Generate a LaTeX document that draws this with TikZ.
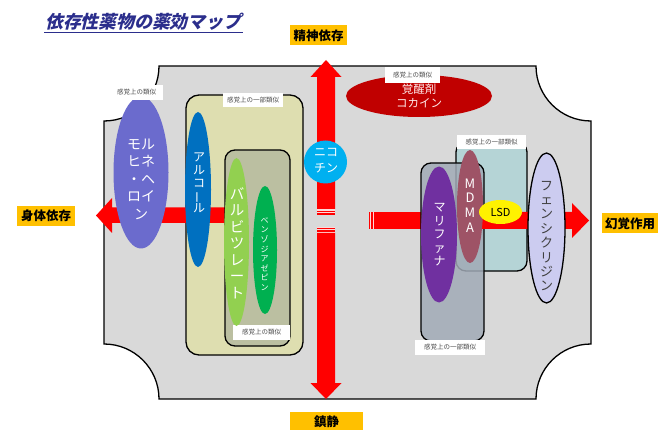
\documentclass[tikz,border=0pt]{standalone}
\usepackage{fontspec}
\setmainfont{Noto Sans CJK JP}
\newfontfamily\titlefont{Noto Sans CJK JP}[FakeSlant=0.24]
\usetikzlibrary{shapes.geometric}
\definecolor{plaque}{HTML}{D9D9D9}
\definecolor{ybox}{HTML}{DEDEB0}
\definecolor{bbox}{HTML}{BBBFA1}
\definecolor{mbox}{HTML}{A1AAB6}
\definecolor{tbox}{HTML}{B5D4D6}
\definecolor{morph}{HTML}{6B6BCD}
\definecolor{alco}{HTML}{0070C0}
\definecolor{barb}{HTML}{92D050}
\definecolor{benzo}{HTML}{00B050}
\definecolor{nico}{HTML}{00B0F0}
\definecolor{coca}{HTML}{C00000}
\definecolor{mari}{HTML}{7030A0}
\definecolor{mdma}{HTML}{9E5366}
\definecolor{fenc}{HTML}{CCCCF0}
\definecolor{orng}{HTML}{FFC000}
\definecolor{navy}{HTML}{2B2E8C}
\definecolor{pinkgap}{HTML}{FFD8D8}
\newcommand\tatebar{\rotatebox[origin=c]{90}{ー}}
\tikzset{
  lbl/.style={fill=white, inner sep=0pt, minimum height=14, font=\fontsize{6.5}{7}\selectfont, text=black!70},
  axislbl/.style={fill=orng, inner sep=0pt, minimum height=20, font=\fontsize{12.5}{13}\selectfont\bfseries, text=black},
  drug/.style={ellipse, inner sep=0pt},
  grp/.style={draw=black, line width=1.3, rounded corners=10, inner sep=0pt},
  wtxt/.style={text=white, align=center, inner sep=0pt},
}
\begin{document}
\begin{tikzpicture}[x=1pt, y=-1pt]
\useasboundingbox (0,0) rectangle (658,430);

% title
\node[font=\fontsize{17.8}{18}\selectfont\titlefont\bfseries, text=navy, anchor=base west, inner sep=0pt] (title) at (45,28.5) {依存性薬物の薬効マップ};
\draw[navy, line width=1] (44,32.5) -- (243,32.5);

% plaque
\draw[fill=plaque, line width=1.3]
  (159,66) -- (536,66) arc[start angle=180, end angle=90, radius=55]
  -- (591,344) arc[start angle=270, end angle=180, radius=55]
  -- (159,399) arc[start angle=0, end angle=-90, radius=55]
  -- (104,121) arc[start angle=90, end angle=0, radius=55] -- cycle;

% axis labels
\node[axislbl, minimum width=57] (seishin) at (318.5,35.5) {精神依存};
\node[axislbl, minimum width=58] (shintai) at (46,216) {身体依存};
\node[axislbl, minimum width=56] (genkaku) at (630,223.5) {幻覚作用};
\node[axislbl, minimum width=73, anchor=north] (chinsei) at (326.5,412) {鎮静};

% yellow group box
\node[grp, fill=ybox, minimum width=117, minimum height=260, rounded corners=13] (ygroup) at (244.5,225) {};
\node[lbl, minimum width=60] (ylbl) at (253,100) {感覚上の一部類似};

% left red arrow
\fill[red] (96,215.5) -- (112,198) -- (112,207.5) -- (262,207.5) -- (262,223) -- (112,223) -- (112,233) -- cycle;

% barbiturate group box
\node[grp, fill=bbox, minimum width=65, minimum height=196] (bgroup) at (257.5,248) {};
\node[lbl, minimum width=57, minimum height=15] (blbl) at (261.5,332.5) {感覚上の類似};

% morphine
\node[drug, fill=morph, minimum width=55, minimum height=152] (morphine) at (141,172.5) {};
\node[wtxt, font=\fontsize{14}{17.5}\selectfont] (morphinet) at (141,179) {モル\\ヒネ\\・ヘ\\ロイ\\ン};
\node[lbl, minimum width=53, minimum height=15] (morlbl) at (136.5,92.5) {感覚上の類似};

% alcohol
\node[drug, fill=alco, minimum width=26, minimum height=155] (alcohol) at (198,189.5) {};
\node[wtxt, font=\fontsize{12}{12.8}\selectfont] (alcoholt) at (199,183) {ア\\ル\\コ\\\tatebar\\ル};

% barbiturate
\node[drug, fill=barb, minimum width=25, minimum height=168] (barbit) at (236.5,242) {};
\node[wtxt, font=\fontsize{14.5}{16.5}\selectfont] (barbitt) at (237,243) {バ\\ル\\ビ\\ツ\\レ\\ー\\ト};

% benzodiazepine
\node[drug, fill=benzo, minimum width=24, minimum height=128] (benzo) at (265,250) {};
\node[wtxt, font=\fontsize{8}{9.6}\selectfont] (benzot) at (264.5,254) {ベ\\ン\\ゾ\\ジ\\ア\\ゼ\\ピ\\ン};

% vertical red arrow with break
\fill[red] (326,60) -- (341.5,77) -- (335,77) -- (335,209) -- (317,209) -- (317,77) -- (310.5,77) -- cycle;
\fill[pinkgap] (317,209) rectangle (335,215);
\fill[red] (317,210.6) rectangle (335,212);
\fill[red] (317,213.2) rectangle (335,214.6);
\fill[pinkgap] (317,227.5) rectangle (335,233);
\fill[red] (317,227.7) rectangle (335,229);
\fill[red] (317,230.3) rectangle (335,231.7);
\fill[red] (317,233) -- (335,233) -- (335,383) -- (341.5,383) -- (326,399) -- (310.5,383) -- (317,383) -- cycle;

% nicotine
\node[circle, fill=nico, minimum size=43, inner sep=0pt] (nicotine) at (325.5,162) {};
\node[wtxt, font=\fontsize{12}{16}\selectfont] (nicotinet) at (326,160.5) {ニコ\\チン};

% cocaine
\node[drug, fill=coca, minimum width=146, minimum height=42] (cocaine) at (419,96) {};
\node[wtxt, text=red!8!white, font=\fontsize{11.5}{14}\selectfont] (cocainet) at (419,95.5) {覚醒剤\\コカイン};
\node[lbl, minimum width=55, minimum height=16] (coclbl) at (412.5,75) {感覚上の類似};

% right red arrow, first piece
\fill[pinkgap] (369,212) rectangle (375,229);
\fill[red] (369,212) rectangle (370.4,229);
\fill[red] (371.4,212) rectangle (373,229);
\fill[red] (374,212) rectangle (430,229);

% MDMA group and marijuana group
\node[grp, fill=tbox, minimum width=71, minimum height=129] (tgroup) at (491.5,206.5) {};
\node[grp, fill=mbox, fill opacity=0.85, minimum width=63, minimum height=178] (mgroup) at (452.5,252) {};
\node[lbl, minimum width=69] (tlbl) at (491.5,142) {感覚上の一部類似};
\node[lbl, minimum width=70, minimum height=15] (mlbl) at (450,347.5) {感覚上の一部類似};

% right red arrow, second piece
\fill[red] (475,212) -- (572,212) -- (572,203) -- (589,220.5) -- (572,238) -- (572,229) -- (475,229) -- cycle;

% marijuana
\node[drug, fill=mari, minimum width=36, minimum height=136] (marijuana) at (439,234.5) {};
\node[wtxt, font=\fontsize{12}{13.5}\selectfont] (marijuanat) at (439.5,235) {マ\\リ\\フ\\ァ\\ナ};

% MDMA
\node[drug, fill=mdma, minimum width=26, minimum height=113] (mdmaell) at (470,206.5) {};
\node[wtxt, font=\fontsize{13}{14.7}\selectfont] (mdmat) at (470,205.5) {M\\D\\M\\A};

% LSD
\node[drug, fill=yellow, minimum width=43, minimum height=24] (lsd) at (500.5,212) {};
\node[inner sep=0pt, font=\fontsize{11}{12}\selectfont] (lsdt) at (500.5,212.5) {LSD};

% phencyclidine
\node[drug, draw=black, line width=1.3, fill=fenc, minimum width=37, minimum height=150] (fencyc) at (546.5,228) {};
\node[wtxt, text=black!75, font=\fontsize{13}{14.4}\selectfont] (fencyct) at (546.5,236) {フ\\ェ\\ン\\シ\\ク\\リ\\ジ\\ン};

\end{tikzpicture}
\end{document}
